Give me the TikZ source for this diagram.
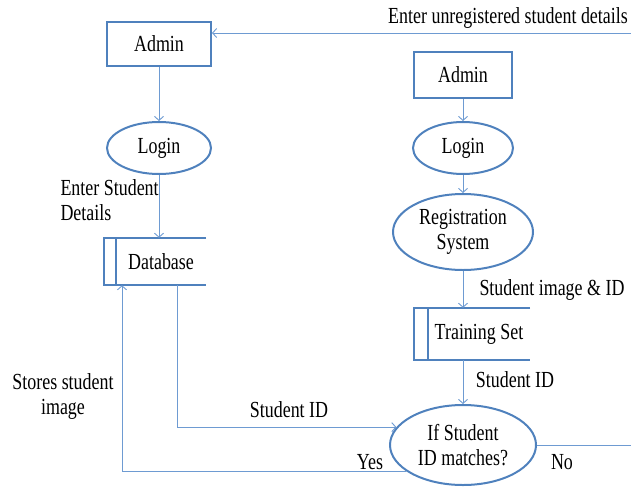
\documentclass[tikz,border=0pt]{standalone}
\usepackage{fontspec}
\setmainfont{Liberation Serif}[FakeStretch=0.78]
\usetikzlibrary{arrows.meta}
\usetikzlibrary{shapes.geometric}
\usetikzlibrary{positioning}
\tikzset{>={Straight Barb[length=4pt,width=9pt]}}
\definecolor{boxblue}{RGB}{79,129,189}
\definecolor{lineblue}{RGB}{110,155,210}

\begin{document}
\begin{tikzpicture}[x=1pt, y=-1pt, font=\fontsize{23}{25}\selectfont,
        box/.style={draw=boxblue, line width=2pt, minimum width=104pt, minimum height=44pt},
        oval/.style={ellipse, draw=boxblue, line width=2pt, inner sep=0pt, align=center},
        store/.style={minimum height=47pt, inner sep=0pt},
        storeline/.style={draw=boxblue, line width=2pt},
        flow/.style={draw=lineblue, line width=0.9pt}]
        \useasboundingbox (0,0) rectangle (631,490);

        % left column
        \node [box] (AdminLeft) at (159,44) {Admin};
        \node [oval, minimum width=104pt, minimum height=52pt] (LoginLeft) at (159,148) {Login};
        \node [store, minimum width=90pt] (Database) at (161,261.5) {Database};
        \draw [storeline] (Database.north east)--([xshift=-12pt]Database.north west)
            --([xshift=-12pt]Database.south west)--(Database.south east);
        \draw [storeline] (Database.north west)--(Database.south west);

        % right column
        \node [box, minimum width=98pt, minimum height=46pt] (AdminRight) at (463,75) {Admin};
        \node [oval, minimum width=100pt, minimum height=52pt] (LoginRight) at (463,148) {Login};
        \node [oval, minimum width=140pt, minimum height=76pt] (RegSystem) at (463,232) {Registration\\System};
        \node [store, minimum width=102pt, minimum height=52pt] (TrainingSet) at (479,334) {Training Set};
        \draw [storeline] (TrainingSet.north east)--([xshift=-14pt]TrainingSet.north west)
            --([xshift=-14pt]TrainingSet.south west)--(TrainingSet.south east);
        \draw [storeline] (TrainingSet.north west)--(TrainingSet.south west);
        \node [oval, minimum width=146pt, minimum height=80pt] (Match) at (463,445) {If Student\\ID matches?};

        % labels
        \node (EnterNew) at (508,18) {Enter unregistered student details};
        \node [anchor=west, align=left] (EnterDetails) at (57,200.5) {Enter Student\\Details};
        \node [align=center] (StoresImage) at (63,396) {Stores student\\image};
        \node (IdLeft) at (289,410) {Student ID};
        \node (Yes) at (370,462) {Yes};
        \node (ImageId) at (552,290) {Student image \& ID};
        \node (IdRight) at (515,380) {Student ID};
        \node (No) at (562,462) {No};

        % connectors
        \coordinate (NewIn) at (631,33);
        \coordinate (NoOut) at (631,446);
        \draw [flow, ->] (NewIn)--(NewIn -| AdminLeft.east);
        \draw [flow, ->] (AdminLeft)--(LoginLeft);
        \draw [flow, ->] (LoginLeft)--(LoginLeft |- Database.north);
        \draw [flow, ->] ([xshift=16pt]Database.south) |- (Match.165);
        \draw [flow, ->] (Match.205) -| ([xshift=-39pt]Database.south);

        \draw [flow, ->] (AdminRight)--(LoginRight);
        \draw [flow, ->] (LoginRight)--(RegSystem);
        \draw [flow, ->] (RegSystem.south)--(RegSystem.south |- TrainingSet.north);
        \draw [flow, ->] (RegSystem.south |- TrainingSet.south)--(Match);
        \draw [flow] (Match.east)--(Match.east -| NoOut);
\end{tikzpicture}
\end{document}
